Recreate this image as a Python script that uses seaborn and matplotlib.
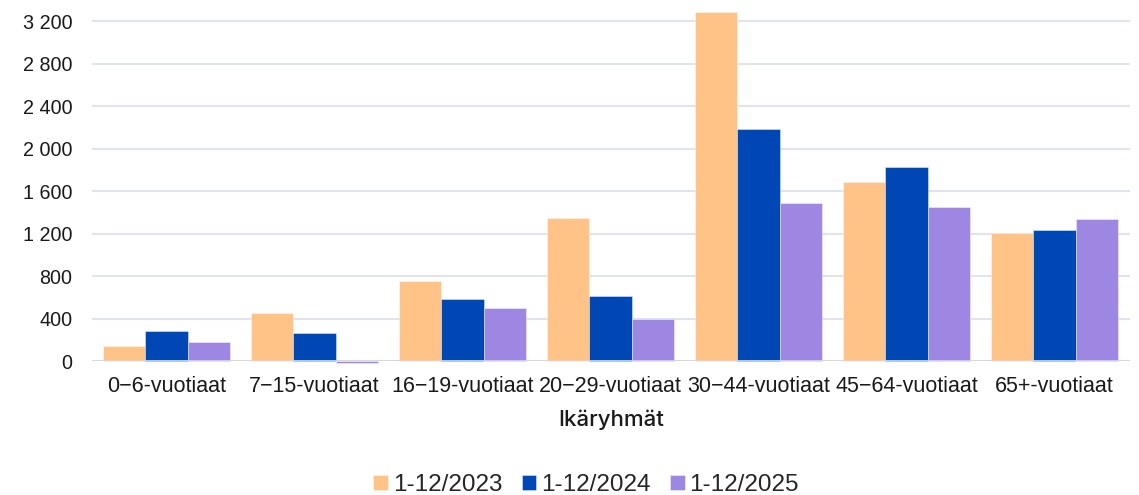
import matplotlib
matplotlib.use("Agg")
import matplotlib.pyplot as plt
import seaborn as sns
import pandas as pd
from matplotlib.ticker import FuncFormatter

categories = ["0\u22126-vuotiaat", "7\u221215-vuotiaat", "16\u221219-vuotiaat", "20\u221229-vuotiaat",
              "30\u221244-vuotiaat", "45\u221264-vuotiaat", "65+-vuotiaat"]
series_names = ["1-12/2023", "1-12/2024", "1-12/2025"]
values_2023 = [138, 455, 758, 1346, 3288, 1683, 1208]
values_2024 = [287, 260, 582, 616, 2186, 1829, 1238]
values_2025 = [176, -18, 500, 396, 1488, 1455, 1340]
yticks = [0, 400, 800, 1200, 1600, 2000, 2400, 2800, 3200]
colors = ["#FFC388", "#0047B6", "#9E87E3"]

rows = []
for name, vals in zip(series_names, [values_2023, values_2024, values_2025]):
    for c, v in zip(categories, vals):
        rows.append({"Ikäryhmä": c, "Kausi": name, "Arvo": v})
df = pd.DataFrame(rows)

sns.set_theme(style="white")
plt.rcParams['font.family'] = ['Liberation Sans', 'DejaVu Sans']

fig = plt.figure(figsize=(11.39, 4.95), dpi=100)
ax = fig.add_axes([0.0808, 0.2707, 0.9112, 0.727])

sns.barplot(data=df, x="Ikäryhmä", y="Arvo", hue="Kausi", hue_order=series_names,
            palette=colors, width=0.86, ax=ax, saturation=1,
            edgecolor=(1, 1, 1, 0.5), linewidth=0.6, legend=True)
for p in ax.patches:
    p.set_clip_on(False)

ax.set_ylim(0, 3390)
ax.set_xlim(-0.503, 6.51)
ax.set_yticks(yticks)
ax.yaxis.set_major_formatter(FuncFormatter(lambda v, _: f"{int(v):,}".replace(",", " ")))
ax.grid(axis="y", color="#E1E5EB", linewidth=1.5)
ax.set_axisbelow(True)
ax.axhline(0, color="#D6D6D6", linewidth=2, zorder=1)
for s in ax.spines.values():
    s.set_visible(False)
ax.tick_params(axis="both", length=0, colors="#1a1a1a")
ax.tick_params(axis="x", pad=11, labelsize=15.5)
ax.tick_params(axis="y", pad=14, labelsize=14.2)
ax.set_ylabel("")
ax.set_xlabel("Ikäryhmät", fontsize=16, family=["Inter", "DejaVu Sans"], fontweight="medium",
              labelpad=9, color="#1a1a1a")

handles, labels = ax.get_legend_handles_labels()
ax.legend(handles, labels, loc="center", bbox_to_anchor=(0.476, -0.345), ncol=3, frameon=False,
          fontsize=17.5, handlelength=0.6, handleheight=0.6, handletextpad=0.2, columnspacing=0.8)

fig.savefig("out.png", dpi=100)
